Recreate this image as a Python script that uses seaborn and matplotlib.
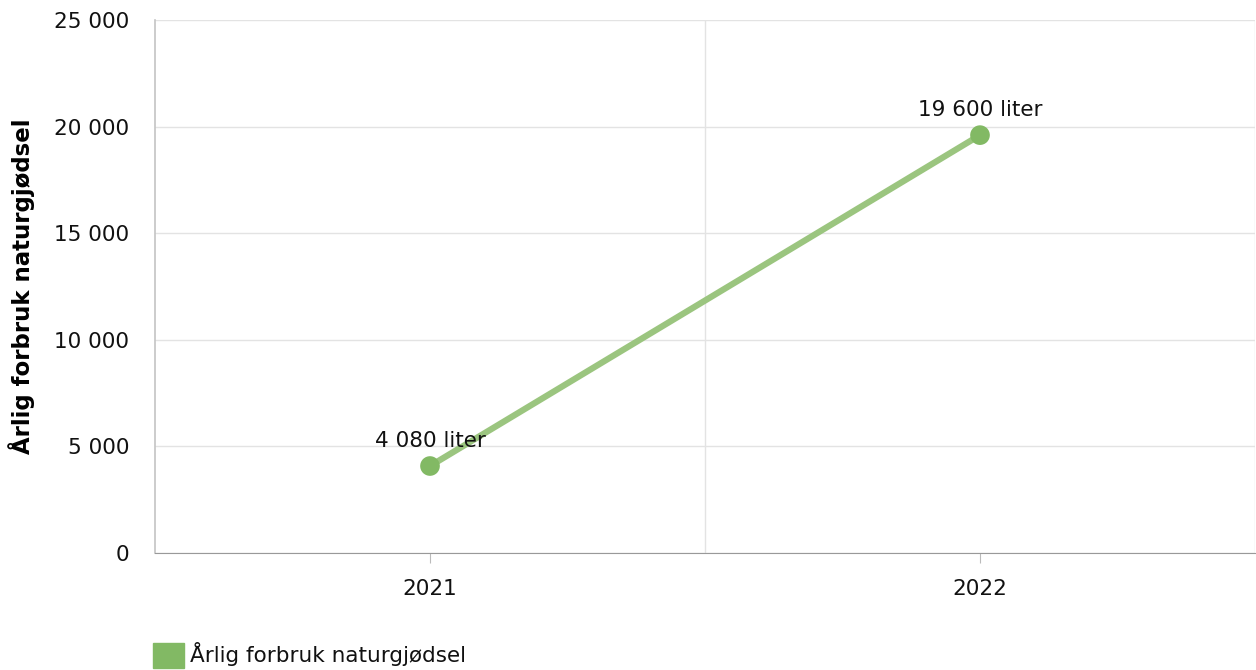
import seaborn as sns
import pandas as pd
import matplotlib.pyplot as plt
from matplotlib.patches import Patch
from matplotlib.ticker import FuncFormatter

# data
years = ["2021", "2022"]
values = [4080, 19600]
point_labels = ["4 080 liter", "19 600 liter"]
series_name = "Årlig forbruk naturgjødsel"

df = pd.DataFrame({"year": years, "value": values})

sns.set_style("white")
plt.rcParams["font.family"] = ["DejaVu Sans"]

fig = plt.figure(figsize=(12.56, 6.70), dpi=100)
ax = fig.add_axes([155 / 1256, 1 - 553 / 670, 1100 / 1256, 533 / 670])

line_col = "#9BC57F"
dot_col = "#82B964"
fs = 15.5

sns.lineplot(data=df, x="year", y="value", ax=ax, color=line_col, linewidth=4.5, sort=False)
sns.scatterplot(data=df, x="year", y="value", ax=ax, color=dot_col, s=200, edgecolor="none", zorder=5)

for i, (v, lab) in enumerate(zip(values, point_labels)):
    ax.annotate(lab, (i, v), xytext=(0, 11), textcoords="offset points",
                ha="center", va="bottom", fontsize=fs, color="#111111")

ax.set_xlim(-0.5, 1.5)
ax.set_ylim(0, 25000)
ax.set_yticks(range(0, 25001, 5000))
ax.yaxis.set_major_formatter(FuncFormatter(lambda v, p: f"{int(v):,}".replace(",", " ")))
ax.grid(axis="y", color="#e3e3e3", linewidth=1)
for xv in (0.5, 1.5):
    ax.axvline(xv, color="#e3e3e3", linewidth=1, zorder=0)

for s in ("top", "right"):
    ax.spines[s].set_visible(False)
ax.spines["left"].set_color("#c4c4c4")
ax.spines["left"].set_linewidth(1.2)
ax.spines["bottom"].set_color("#999999")
ax.tick_params(axis="y", length=8.5, color="#bbbbbb", labelsize=fs, pad=10, labelcolor="#111111")
ax.tick_params(axis="x", length=7, color="#bbbbbb", labelsize=fs, pad=12, labelcolor="#111111", bottom=True)
ax.set_xlabel("")
ax.set_ylabel(series_name, fontsize=16.5, fontweight="bold", labelpad=14, color="#000000")

leg = fig.legend(handles=[Patch(color=dot_col, label=series_name)], loc="lower left",
                 bbox_to_anchor=(134 / 1256, -17 / 670), frameon=False, fontsize=fs,
                 handlelength=1.4, handleheight=1.4, handletextpad=0.3)
for t in leg.get_texts():
    t.set_color("#111111")

fig.savefig("out.png", dpi=100)
